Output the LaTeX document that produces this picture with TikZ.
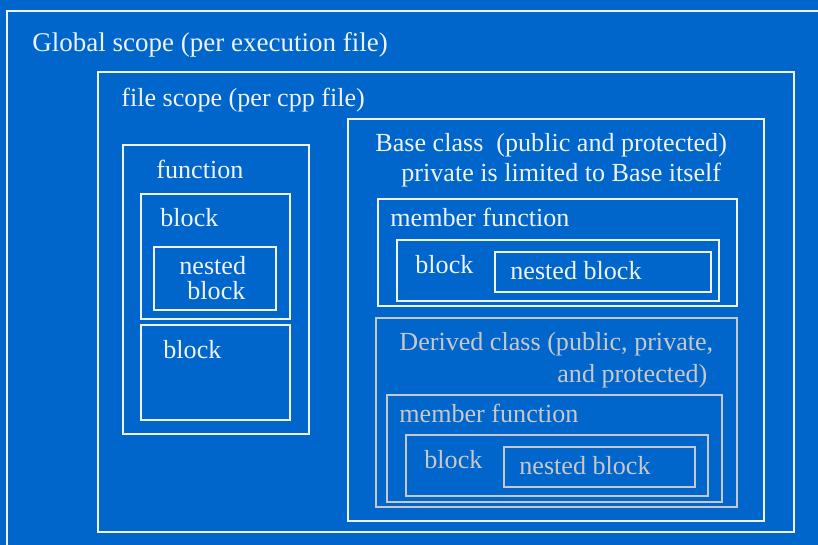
\documentclass[tikz,border=0pt]{standalone}
\usepackage{fontspec}
\setmainfont{Liberation Serif}
\usetikzlibrary{calc}

\definecolor{scopeblue}{HTML}{0066CC}
\definecolor{scopeline}{HTML}{EEF2FA}
\definecolor{derivedgray}{HTML}{C8C8C8}

\tikzset{
    scopebox/.style={draw=scopeline,line width=0.6pt},
    derivedbox/.style={draw=derivedgray,line width=0.6pt},
    scopetext/.style={anchor=base west,inner sep=0pt,text=scopeline},
    derivedtext/.style={anchor=base west,inner sep=0pt,text=derivedgray}
}

\begin{document}
\begin{tikzpicture}[x=0.5pt,y=-0.5pt,font=\fontsize{13.05}{16}\selectfont]
                \fill[scopeblue] (0,0) rectangle (818,545);
                \useasboundingbox (0,0) rectangle (818,545);
                \clip (0,0) rectangle (818,545);

                \draw[scopebox] (7,11) rectangle (830,560);
                \draw[scopebox] (98,72) rectangle (794,532);

                \draw[scopebox] (123,145) rectangle (309,434);
                \draw[scopebox] (141,194) rectangle (290,319);
                \draw[scopebox] (154,247) rectangle (276,310);
                \draw[scopebox] (141,325) rectangle (290,420);

                \draw[scopebox] (348,119) rectangle (764,521);
                \draw[scopebox] (378,199) rectangle (737,306);
                \draw[scopebox] (397,240) rectangle (719,301);
                \draw[scopebox] (495,252) rectangle (711,292);

                \draw[derivedbox] (376,318) rectangle (737,507);
                \draw[derivedbox] (387,395) rectangle (722,502);
                \draw[derivedbox] (406,435) rectangle (708,496);
                \draw[derivedbox] (504,447) rectangle (695,487);

                \node[scopetext,font=\fontsize{13.5}{16}\selectfont] (global) at (32,52) {Global scope (per execution file)};
                \node[scopetext] (file) at (121,107) {file scope (per cpp file)};

                \node[scopetext] (func) at (156,179) {function};
                \node[scopetext] (fblock) at (160,227) {block};
                \node[scopetext] (fnested) at (179,274) {nested};
                \node[scopetext] (fnested2) at (187,299) {block};
                \node[scopetext] (fblock2) at (163,358) {block};

                \node[scopetext] (base) at (375,152) {Base class\ \ (public and protected)};
                \node[scopetext] (private) at (401,182) {private is limited to Base itself};
                \node[scopetext] (bmember) at (390,227) {member function};
                \node[scopetext] (bblock) at (415,273) {block};
                \node[scopetext] (bnested) at (510,279) {nested block};

                \node[derivedtext] (derived) at (399,350) {Derived class (public, private,};
                \node[derivedtext] (derived2) at (557,382) {and protected)};
                \node[derivedtext] (dmember) at (399,422) {member function};
                \node[derivedtext] (dblock) at (424,468) {block};
                \node[derivedtext] (dnested) at (519,474) {nested block};
            \end{tikzpicture}
\end{document}
